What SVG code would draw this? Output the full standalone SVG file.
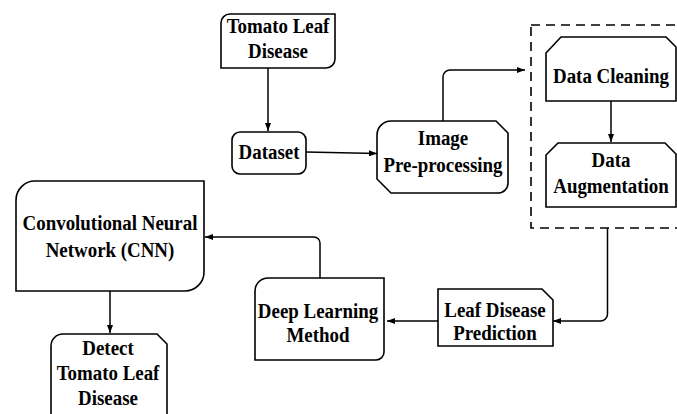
<svg xmlns="http://www.w3.org/2000/svg" width="677" height="414" viewBox="0 0 677 414">
<defs>
<marker id="ah" markerUnits="userSpaceOnUse" markerWidth="8" markerHeight="6" refX="8" refY="3" orient="auto">
<path d="M0,0 L8,3 L0,6 Z" fill="#000"/>
</marker>
<style>
.box{fill:#fff;stroke:#000;stroke-width:1.6}
.ln{fill:none;stroke:#000;stroke-width:1.5}
.t{font-family:"Liberation Serif","Times New Roman",serif;font-weight:bold;font-size:22px;text-anchor:middle;fill:#000}
</style>
</defs>
<rect width="677" height="414" fill="#fff"/>
<g id="connectors">
<line class="ln" x1="268" y1="68" x2="268" y2="131" marker-end="url(#ah)"/>
<line class="ln" x1="306" y1="152" x2="377" y2="153.5" marker-end="url(#ah)"/>
<path class="ln" d="M443,121 V77 A7,7 0 0 1 450,70 H525" marker-end="url(#ah)"/>
<line class="ln" x1="611" y1="101" x2="611" y2="142" marker-end="url(#ah)"/>
<path class="ln" d="M607.5,228 V314 A7,7 0 0 1 600.5,321 H553" marker-end="url(#ah)"/>
<line class="ln" x1="438" y1="321" x2="387" y2="321" marker-end="url(#ah)"/>
<path class="ln" d="M320,278 V243 A6,6 0 0 0 314,237 H205" marker-end="url(#ah)"/>
<line class="ln" x1="110" y1="291" x2="110" y2="333" marker-end="url(#ah)"/>
</g>
<g id="group-preprocess">
<rect x="531" y="25" width="170" height="203" fill="none" stroke="#000" stroke-width="1.6" stroke-dasharray="9,6"/>
</g>
<g id="tomato-leaf-disease">
<path class="box" d="M221,23 A9,9 0 0 1 230,14 H335 V59 A9,9 0 0 1 326,68 H221 Z"/>
<text class="t" transform="translate(278,33) scale(0.86,1)">Tomato Leaf</text>
<text class="t" transform="translate(278,58) scale(0.86,1)">Disease</text>
</g>
<g id="dataset">
<rect class="box" x="232" y="132" width="74" height="42" rx="8"/>
<text class="t" transform="translate(269,159) scale(0.86,1)">Dataset</text>
</g>
<g id="image-preprocessing">
<path class="box" d="M377,135 A14,14 0 0 1 391,121 H496 L508,133 V183 A10,10 0 0 1 498,193 H391 L377,179 Z"/>
<text class="t" transform="translate(443,145) scale(0.86,1)">Image</text>
<text class="t" transform="translate(443,172) scale(0.86,1)">Pre-processing</text>
</g>
<g id="data-cleaning">
<path class="box" d="M546,53 L561,37 H666 L676,47 V101 H546 Z"/>
<text class="t" transform="translate(611,83) scale(0.86,1)">Data Cleaning</text>
</g>
<g id="data-augmentation">
<path class="box" d="M546,155 L558,143 H665 L676,154 V207 H546 Z"/>
<text class="t" transform="translate(611,167) scale(0.86,1)">Data</text>
<text class="t" transform="translate(611,193) scale(0.86,1)">Augmentation</text>
</g>
<g id="leaf-disease-prediction">
<path class="box" d="M438,289 H542 L553,300 V346 H438 Z"/>
<text class="t" transform="translate(495,317) scale(0.86,1)">Leaf Disease</text>
<text class="t" transform="translate(495,340) scale(0.86,1)">Prediction</text>
</g>
<g id="deep-learning-method">
<path class="box" d="M255,291 A13,13 0 0 1 268,278 H384 V352 A8,8 0 0 1 376,360 H255 Z"/>
<text class="t" transform="translate(318,318) scale(0.86,1)">Deep Learning</text>
<text class="t" transform="translate(318,342) scale(0.86,1)">Method</text>
</g>
<g id="cnn">
<path class="box" d="M16,200 A19,19 0 0 1 35,181 H204 V272 A19,19 0 0 1 185,291 H16 Z"/>
<text class="t" transform="translate(110,230) scale(0.86,1)">Convolutional Neural</text>
<text class="t" transform="translate(110,257) scale(0.86,1)">Network (CNN)</text>
</g>
<g id="detect">
<path class="box" d="M51,346 A12,12 0 0 1 63,334 H157 L167,344 V420 H51 Z"/>
<text class="t" transform="translate(108,355) scale(0.86,1)">Detect</text>
<text class="t" transform="translate(108,380) scale(0.86,1)">Tomato Leaf</text>
<text class="t" transform="translate(108,405) scale(0.86,1)">Disease</text>
</g>
</svg>
